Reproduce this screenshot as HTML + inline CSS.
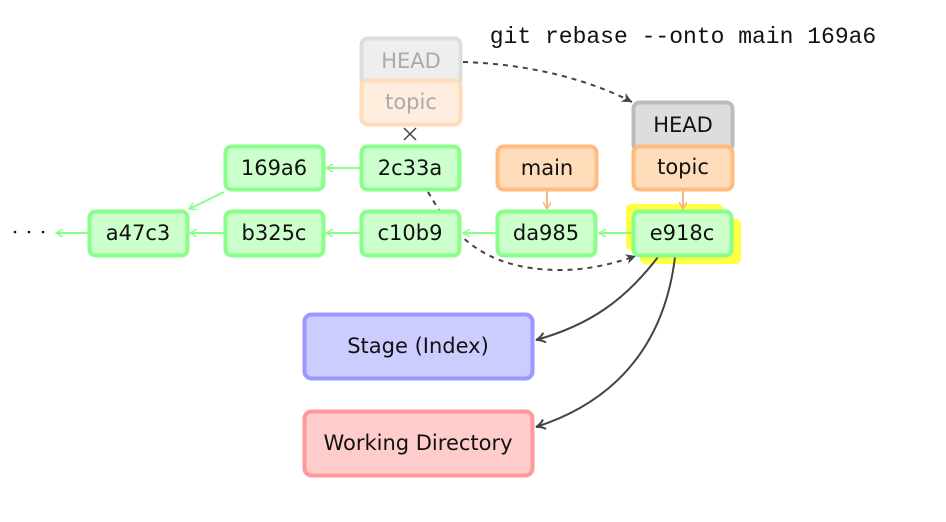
<!DOCTYPE html>
<html><head><meta charset="utf-8"><style>
html,body{margin:0;padding:0;background:#fff;}
svg{display:block;}
text{font-family:"DejaVu Sans","Liberation Sans",sans-serif;font-size:21px;text-anchor:middle;dominant-baseline:central;fill:#111;}
</style></head><body>
<svg width="946" height="522" viewBox="0 0 946 522" xmlns="http://www.w3.org/2000/svg">
<defs>
<marker id="ag" markerWidth="8" markerHeight="8" refX="7" refY="4" orient="auto" markerUnits="userSpaceOnUse"><path d="M0,0 L7,4 L0,8" fill="none" stroke="#88ff88" stroke-width="1.5"/></marker>
<marker id="ao" markerWidth="8" markerHeight="8" refX="7" refY="4" orient="auto" markerUnits="userSpaceOnUse"><path d="M0,0 L7,4 L0,8" fill="none" stroke="#ffb380" stroke-width="1.5"/></marker>
<marker id="ad" markerWidth="12" markerHeight="12" refX="10" refY="6" orient="auto" markerUnits="userSpaceOnUse"><path d="M0,1 L10,6 L0,11 L3,6 Z" fill="#444"/></marker>
<marker id="ak" markerWidth="12" markerHeight="12" refX="10" refY="6" orient="auto" markerUnits="userSpaceOnUse"><path d="M1,1 Q5,5 10,6 Q5,7 1,11" fill="none" stroke="#444" stroke-width="2"/></marker>
</defs>
<rect x="626" y="204" width="97" height="46" rx="5" fill="#ffff44"/>
<rect x="640" y="219" width="101" height="45" rx="5" fill="#ffff44"/>
<rect x="361.5" y="38.5" width="99" height="48" rx="6" fill="#eeeeee" stroke="#dddddd" stroke-width="4"/>
<text x="411" y="61" style="fill:#aaa">HEAD</text>
<rect x="361.5" y="80.5" width="99" height="44" rx="6" fill="#ffeedd" stroke="#ffddbb" stroke-width="4"/>
<text x="411" y="102" style="fill:#aaa">topic</text>
<path d="M404,128 L416,140 M416,128 L404,140" stroke="#444" stroke-width="1.5"/>
<circle cx="15" cy="232" r="1.3" fill="#111"/><circle cx="29" cy="232" r="1.3" fill="#111"/><circle cx="43" cy="232" r="1.3" fill="#111"/>
<g stroke="#88ff88" stroke-width="2" fill="none">
<line x1="88" y1="233" x2="56" y2="233" marker-end="url(#ag)"/>
<line x1="224" y1="233" x2="190" y2="233" marker-end="url(#ag)"/>
<line x1="361" y1="233" x2="326" y2="233" marker-end="url(#ag)"/>
<line x1="497" y1="233" x2="463" y2="233" marker-end="url(#ag)"/>
<line x1="633" y1="233" x2="599" y2="233" marker-end="url(#ag)"/>
<line x1="361" y1="168" x2="326" y2="168" marker-end="url(#ag)"/>
<line x1="224" y1="192" x2="189" y2="209" marker-end="url(#ag)"/>
</g>
<g stroke="#ffb380" stroke-width="2" fill="none">
<line x1="547" y1="189" x2="547" y2="209" marker-end="url(#ao)"/>
<line x1="683" y1="189" x2="683" y2="209" marker-end="url(#ao)"/>
</g>
<g stroke="#444" stroke-width="2" fill="none" stroke-dasharray="5,5">
<path d="M463,62 C530,64 590,80 632,102" marker-end="url(#ad)"/>
<path d="M428,192 C450,230 480,270 560,270 C590,270 615,263 636,256" marker-end="url(#ad)"/>
</g>
<g stroke="#444" stroke-width="2" fill="none">
<path d="M658,257 C625,300 590,325 536,340" marker-end="url(#ak)"/>
<path d="M675,257 C665,340 620,400 536,427" marker-end="url(#ak)"/>
</g>
<g fill="#ccffcc" stroke="#88ff88" stroke-width="4">
<rect x="89.5" y="211.5" width="98" height="44" rx="6"/>
<rect x="225.5" y="211.5" width="98" height="44" rx="6"/>
<rect x="225.5" y="146.5" width="98" height="43" rx="6"/>
<rect x="361.5" y="146.5" width="98" height="43" rx="6"/>
<rect x="361.5" y="211.5" width="98" height="44" rx="6"/>
<rect x="497.5" y="211.5" width="98" height="44" rx="6"/>
<rect x="633.5" y="211.5" width="98" height="44" rx="6"/>
</g>
<text x="138" y="233">a47c3</text>
<text x="274" y="233">b325c</text>
<text x="274" y="168">169a6</text>
<text x="410" y="168">2c33a</text>
<text x="410" y="233">c10b9</text>
<text x="546" y="233">da985</text>
<text x="682" y="233">e918c</text>
<rect x="633.5" y="102.5" width="99" height="48" rx="6" fill="#dddddd" stroke="#bbbbbb" stroke-width="4"/>
<text x="683" y="125">HEAD</text>
<rect x="633.5" y="146.5" width="99" height="43" rx="6" fill="#ffddbb" stroke="#ffbb80" stroke-width="4"/>
<text x="683" y="167">topic</text>
<rect x="497.5" y="146.5" width="99" height="43" rx="6" fill="#ffddbb" stroke="#ffbb80" stroke-width="4"/>
<text x="547" y="168">main</text>
<rect x="304.5" y="314.5" width="228" height="64" rx="7" fill="#ccccff" stroke="#9999ff" stroke-width="4"/>
<text x="418" y="346">Stage (Index)</text>
<rect x="304.5" y="411.5" width="228" height="64" rx="7" fill="#ffcccc" stroke="#ff9999" stroke-width="4"/>
<text x="418" y="443">Working Directory</text>
<text x="683" y="37" style="font-family:'Liberation Mono',monospace;font-size:23px">git rebase --onto main 169a6</text>
</svg>
</body></html>
